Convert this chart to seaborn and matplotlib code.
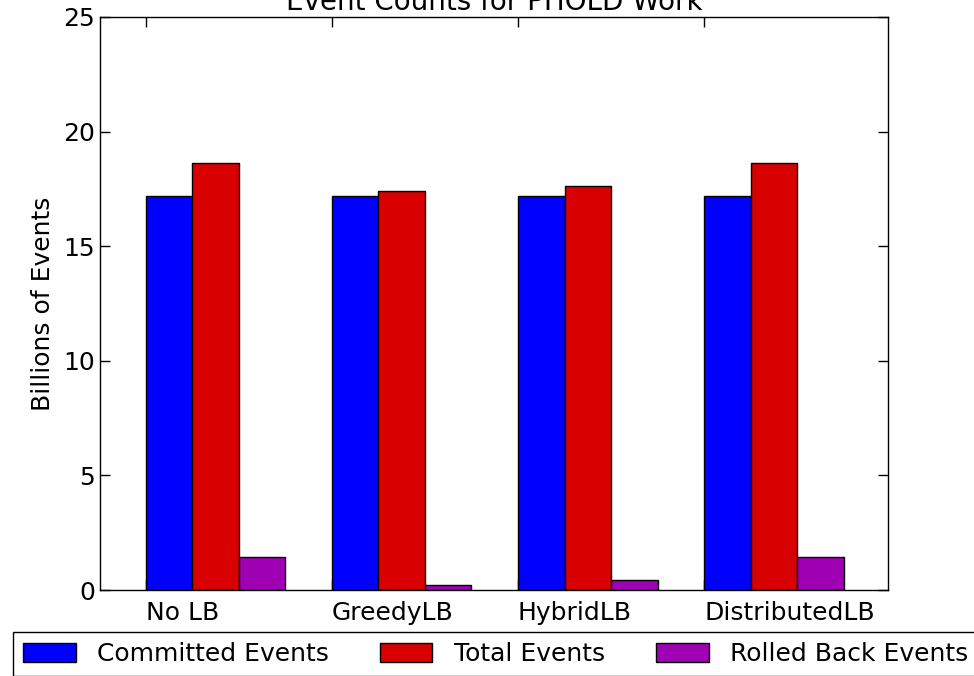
import pandas as pd
import seaborn as sns
import matplotlib.pyplot as plt

balancers = ["No LB", "GreedyLB", "HybridLB", "DistributedLB"]
series = ["Committed Events", "Total Events", "Rolled Back Events"]
committed = [17.18, 17.18, 17.18, 17.18]
total = [18.64, 17.42, 17.64, 18.62]
rolled_back = [1.44, 0.22, 0.44, 1.42]
colors = ["#0000ff", "#d80000", "#a000b4"]

df = pd.DataFrame({
    "lb": balancers * 3,
    "series": [s for s in series for _ in balancers],
    "events": committed + total + rolled_back,
})

sns.set_style("ticks")
plt.rcParams["font.family"] = ["DejaVu Sans"]
plt.rcParams["text.color"] = "black"
plt.rcParams["axes.labelcolor"] = "black"
plt.rcParams["xtick.color"] = "black"
plt.rcParams["ytick.color"] = "black"

fig = plt.figure(figsize=(9.74, 6.76), dpi=100)
ax = fig.add_axes([100 / 974, 1 - 590 / 676, 788 / 974, 573 / 676])

sns.barplot(data=df, x="lb", y="events", hue="series", palette=colors,
            saturation=1, width=0.75, edgecolor="black", linewidth=1,
            ax=ax, legend=True)

# labels start at the left edge of each group
starts = [i - 0.375 for i in range(len(balancers))]
ax.set_xticks(starts)
ax.set_xticklabels(balancers, ha="left", fontsize=18)
ax.set_xlim(-0.622, 3.614)
ax.set_ylim(0, 25)
ax.set_yticks([0, 5, 10, 15, 20, 25])
ax.tick_params(axis="y", labelsize=18)
ax.tick_params(direction="in", top=True, right=True, length=7, width=1)
ax.tick_params(axis="x", pad=8)
for sp in ax.spines.values():
    sp.set_visible(True)
    sp.set_color("black")
    sp.set_linewidth(1)

ax.set_xlabel("")
ax.set_ylabel("Billions of Events", fontsize=18, labelpad=6)
ax.set_title("Event Counts for PHOLD Work", fontsize=20, pad=5)

handles, labels = ax.get_legend_handles_labels()
ax.get_legend().remove()
fig.legend(handles, labels, loc="upper left", bbox_to_anchor=(13 / 974, 1 - 632 / 676),
           ncol=3, fontsize=18, frameon=True, fancybox=False, edgecolor="black",
           borderaxespad=0, borderpad=0.4, handlelength=2.1, handleheight=0.8,
           handletextpad=0.85, columnspacing=2.05, framealpha=1)

fig.savefig("out.png", dpi=100)
